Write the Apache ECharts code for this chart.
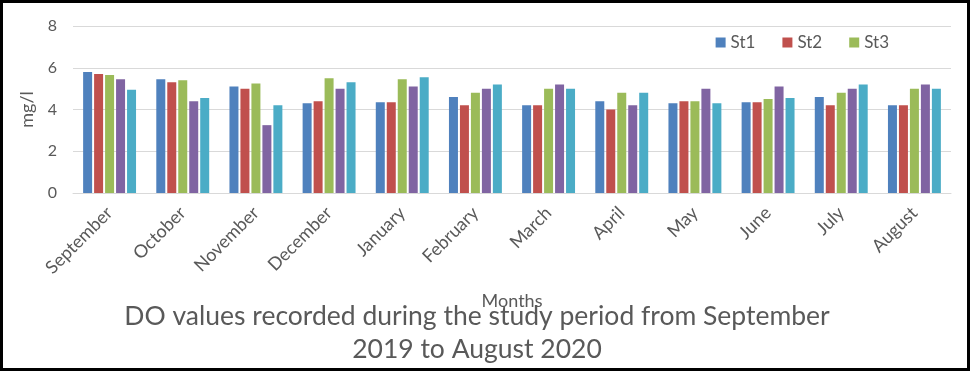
<!DOCTYPE html>
<html>
<head>
<meta charset="utf-8">
<script src="https://cdn.jsdelivr.net/npm/echarts@6/dist/echarts.min.js"></script>
<style>
html,body{margin:0;padding:0;background:#fff;}
#wrap{width:970px;height:371px;box-sizing:border-box;border-style:solid;border-color:#000;border-width:3px 3px 3px 3px;position:relative;overflow:hidden;}
#chart{position:absolute;left:-3px;top:-3px;width:970px;height:371px;}
</style>
</head>
<body>
<div id="wrap"><div id="chart"></div></div>
<script>
const months = ["September","October","November","December","January","February","March","April","May","June","July","August"];
const yTicks = [0, 2, 4, 6, 8];
const st1 = [5.8, 5.45, 5.1, 4.3, 4.35, 4.6, 4.2, 4.4, 4.3, 4.35, 4.6, 4.2];
const st2 = [5.7, 5.3, 5.0, 4.4, 4.35, 4.2, 4.2, 4.0, 4.4, 4.35, 4.2, 4.2];
const st3 = [5.65, 5.4, 5.25, 5.5, 5.45, 4.8, 5.0, 4.8, 4.4, 4.5, 4.8, 5.0];
const st4 = [5.45, 4.4, 3.25, 5.0, 5.1, 5.0, 5.2, 4.2, 5.0, 5.1, 5.0, 5.2];
const st5 = [4.95, 4.55, 4.2, 5.3, 5.55, 5.2, 5.0, 4.8, 4.3, 4.55, 5.2, 5.0];
const seriesNames = ["St1","St2","St3","St4","St5"];
const legendNames = ["St1","St2","St3"];
const colors = ["#4F81BD","#C0504D","#9BBB59","#8064A2","#4BACC6"];
const titleText = "DO values recorded during the study period from September\n2019 to August 2020";

const font = "Lato, 'Open Sans', sans-serif";
const chart = echarts.init(document.getElementById('chart'), null, {renderer:'canvas'});
const data = [st1, st2, st3, st4, st5];
chart.setOption({
  animation: false,
  color: colors,
  textStyle: {fontFamily: font},
  title: {
    text: titleText,
    left: 472, top: 295,
    textAlign: 'center',
    textStyle: {fontFamily: font, fontWeight: 'normal', fontSize: 26.5, color: '#595959', lineHeight: 33}
  },
  legend: {
    data: legendNames,
    right: 76, top: 29,
    itemWidth: 10, itemHeight: 10, itemGap: 27,
    icon: 'rect',
    textStyle: {fontFamily: font, fontSize: 17, color: '#595959'}
  },
  grid: {left: 73, right: 19, top: 26, bottom: 178, containLabel: false},
  xAxis: {
    type: 'category',
    data: months,
    name: 'Months',
    nameLocation: 'middle',
    nameGap: 99,
    nameTextStyle: {fontFamily: font, fontSize: 18, color: '#595959'},
    axisLine: {lineStyle: {color: '#D9D9D9', width: 1}},
    axisTick: {show: false},
    axisLabel: {rotate: 45, margin: 17, fontFamily: font, fontSize: 18, color: '#595959', interval: 0}
  },
  yAxis: {
    type: 'value',
    min: yTicks[0], max: yTicks[yTicks.length-1], interval: 2,
    name: 'mg/l',
    nameLocation: 'middle',
    nameGap: 37,
    nameRotate: 90,
    nameTextStyle: {fontFamily: font, fontSize: 18, color: '#595959'},
    axisLine: {show: false},
    axisTick: {show: false},
    axisLabel: {margin: 16, fontFamily: font, fontSize: 16, color: '#595959'},
    splitLine: {lineStyle: {color: '#D9D9D9', width: 1}}
  },
  series: data.map((d, i) => ({
    name: seriesNames[i],
    type: 'bar',
    data: d,
    barWidth: 9,
    barGap: '22%',
    itemStyle: {color: colors[i]}
  }))
});
</script>
</body>
</html>
